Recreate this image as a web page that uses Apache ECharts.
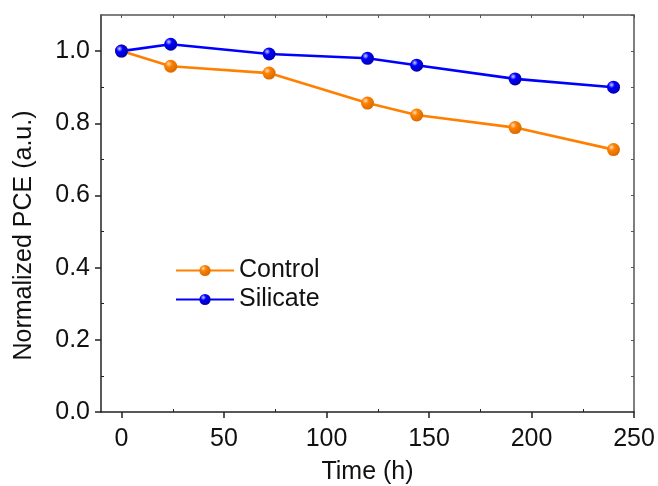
<!DOCTYPE html>
<html>
<head>
<meta charset="utf-8">
<script src="https://cdn.jsdelivr.net/npm/echarts@6/dist/echarts.min.js"></script>
<style>
  html, body { margin: 0; padding: 0; background: #fff; }
  #chart { width: 658px; height: 486px; }
</style>
</head>
<body>
<div id="chart"></div>
<script>
// values
const hours = [0, 24, 72, 120, 144, 192, 240]
const control = [1.0, 0.958, 0.939, 0.856, 0.823, 0.788, 0.727]
const silicate = [1.0, 1.019, 0.992, 0.980, 0.961, 0.923, 0.900]

const xMajor = [0, 50, 100, 150, 200, 250]
const xMinor = [25, 75, 125, 175, 225]
const xAll = [0, 25, 50, 75, 100, 125, 150, 175, 200, 225, 250]
const yMajor = [0, 0.2, 0.4, 0.6, 0.8, 1.0]
const yMinor = [0.1, 0.3, 0.5, 0.7, 0.9]
const yAll = [0, 0.1, 0.2, 0.3, 0.4, 0.5, 0.6, 0.7, 0.8, 0.9, 1.0, 1.1]

const FONT = '"Liberation Sans", Arial, sans-serif'
const AXIS_COLOR = '#222'

function ball(light, base, dark) {
  return new echarts.graphic.RadialGradient(0.35, 0.32, 0.7, [
    { offset: 0, color: light },
    { offset: 0.35, color: base },
    { offset: 1, color: dark }
  ])
}

function zip(xs, ys) {
  return xs.map((x, i) => [x, ys[i]])
}

const chart = echarts.init(document.getElementById('chart'))

// helper axes that only draw ticks / the frame
const tickOnly = (extra) => Object.assign({
  type: 'value',
  axisLabel: { show: false },
  splitLine: { show: false }
}, extra)

const option = {
  animation: false,
  grid: { left: 101, right: 24, top: 15, bottom: 74, outerBoundsMode: 'none', containLabel: false },
  legend: {
    orient: 'vertical',
    left: 170,
    top: 253,
    itemWidth: 58,
    itemHeight: 14,
    itemGap: 4,
    textStyle: { fontFamily: FONT, fontSize: 25, color: '#111' },
    data: ['Control', 'Silicate']
  },
  xAxis: [
    {
      type: 'value',
      min: -10,
      max: 250,
      name: 'Time (h)',
      nameLocation: 'middle',
      nameGap: 48,
      nameTextStyle: { fontFamily: FONT, fontSize: 25, color: '#111' },
      axisLine: { show: true, onZero: false, lineStyle: { color: AXIS_COLOR, width: 1.5 } },
      axisTick: { show: false },
      axisLabel: { customValues: xMajor, fontFamily: FONT, fontSize: 25, color: '#111', margin: 15 },
      splitLine: { show: false }
    },
    tickOnly({
      min: -10, max: 250, position: 'bottom',
      axisLine: { show: false, onZero: false },
      axisTick: { show: true, customValues: xMajor, length: 6, lineStyle: { color: AXIS_COLOR, width: 1.5 } },
      axisLabel: { show: false, customValues: xMajor }
    }),
    tickOnly({
      min: -10, max: 250, position: 'bottom',
      axisLine: { show: false, onZero: false },
      axisTick: { show: true, inside: true, customValues: xMinor, length: 3, lineStyle: { color: AXIS_COLOR, width: 1 } },
      axisLabel: { show: false, customValues: xMinor }
    }),
    tickOnly({
      min: -10, max: 250, position: 'top',
      axisLine: { show: true, onZero: false, lineStyle: { color: '#555', width: 1.5 } },
      axisTick: { show: true, inside: true, customValues: xAll, length: 3, lineStyle: { color: '#555', width: 1 } },
      axisLabel: { show: false, customValues: xAll }
    })
  ],
  yAxis: [
    {
      type: 'value',
      min: 0,
      max: 1.1,
      name: 'Normalized PCE (a.u.)',
      nameLocation: 'middle',
      nameGap: 64,
      // the title sits a little below the axis centre in the original
      nameTextStyle: { fontFamily: FONT, fontSize: 25, color: '#111', padding: [0, 44, 0, 0] },
      axisLine: { show: true, onZero: false, lineStyle: { color: AXIS_COLOR, width: 1.5 } },
      axisTick: { show: false },
      axisLabel: {
        customValues: yMajor,
        fontFamily: FONT, fontSize: 25, color: '#111', margin: 11,
        formatter: (v) => v.toFixed(1)
      },
      splitLine: { show: false }
    },
    tickOnly({
      min: 0, max: 1.1, position: 'left',
      axisLine: { show: false, onZero: false },
      axisTick: { show: true, customValues: yMajor, length: 6, lineStyle: { color: AXIS_COLOR, width: 1.5 } },
      axisLabel: { show: false, customValues: yMajor }
    }),
    tickOnly({
      min: 0, max: 1.1, position: 'left',
      axisLine: { show: false, onZero: false },
      axisTick: { show: true, inside: true, customValues: yMinor, length: 3, lineStyle: { color: AXIS_COLOR, width: 1 } },
      axisLabel: { show: false, customValues: yMinor }
    }),
    tickOnly({
      min: 0, max: 1.1, position: 'right',
      axisLine: { show: true, onZero: false, lineStyle: { color: '#555', width: 1.5 } },
      axisTick: { show: true, inside: true, customValues: yAll, length: 3, lineStyle: { color: '#555', width: 1 } },
      axisLabel: { show: false, customValues: yAll }
    })
  ],
  series: [
    {
      name: 'Control',
      type: 'line',
      data: zip(hours, control),
      symbol: 'circle',
      symbolSize: 13,
      lineStyle: { color: '#ff8000', width: 2.6 },
      itemStyle: { color: ball('#ffe0c0', '#ff8000', '#d86a00') }
    },
    {
      name: 'Silicate',
      type: 'line',
      data: zip(hours, silicate),
      symbol: 'circle',
      symbolSize: 13,
      lineStyle: { color: '#0000ff', width: 2.6 },
      itemStyle: { color: ball('#d0d0ff', '#0000ff', '#0000b0') }
    }
  ]
}

chart.setOption(option)
</script>
</body>
</html>
